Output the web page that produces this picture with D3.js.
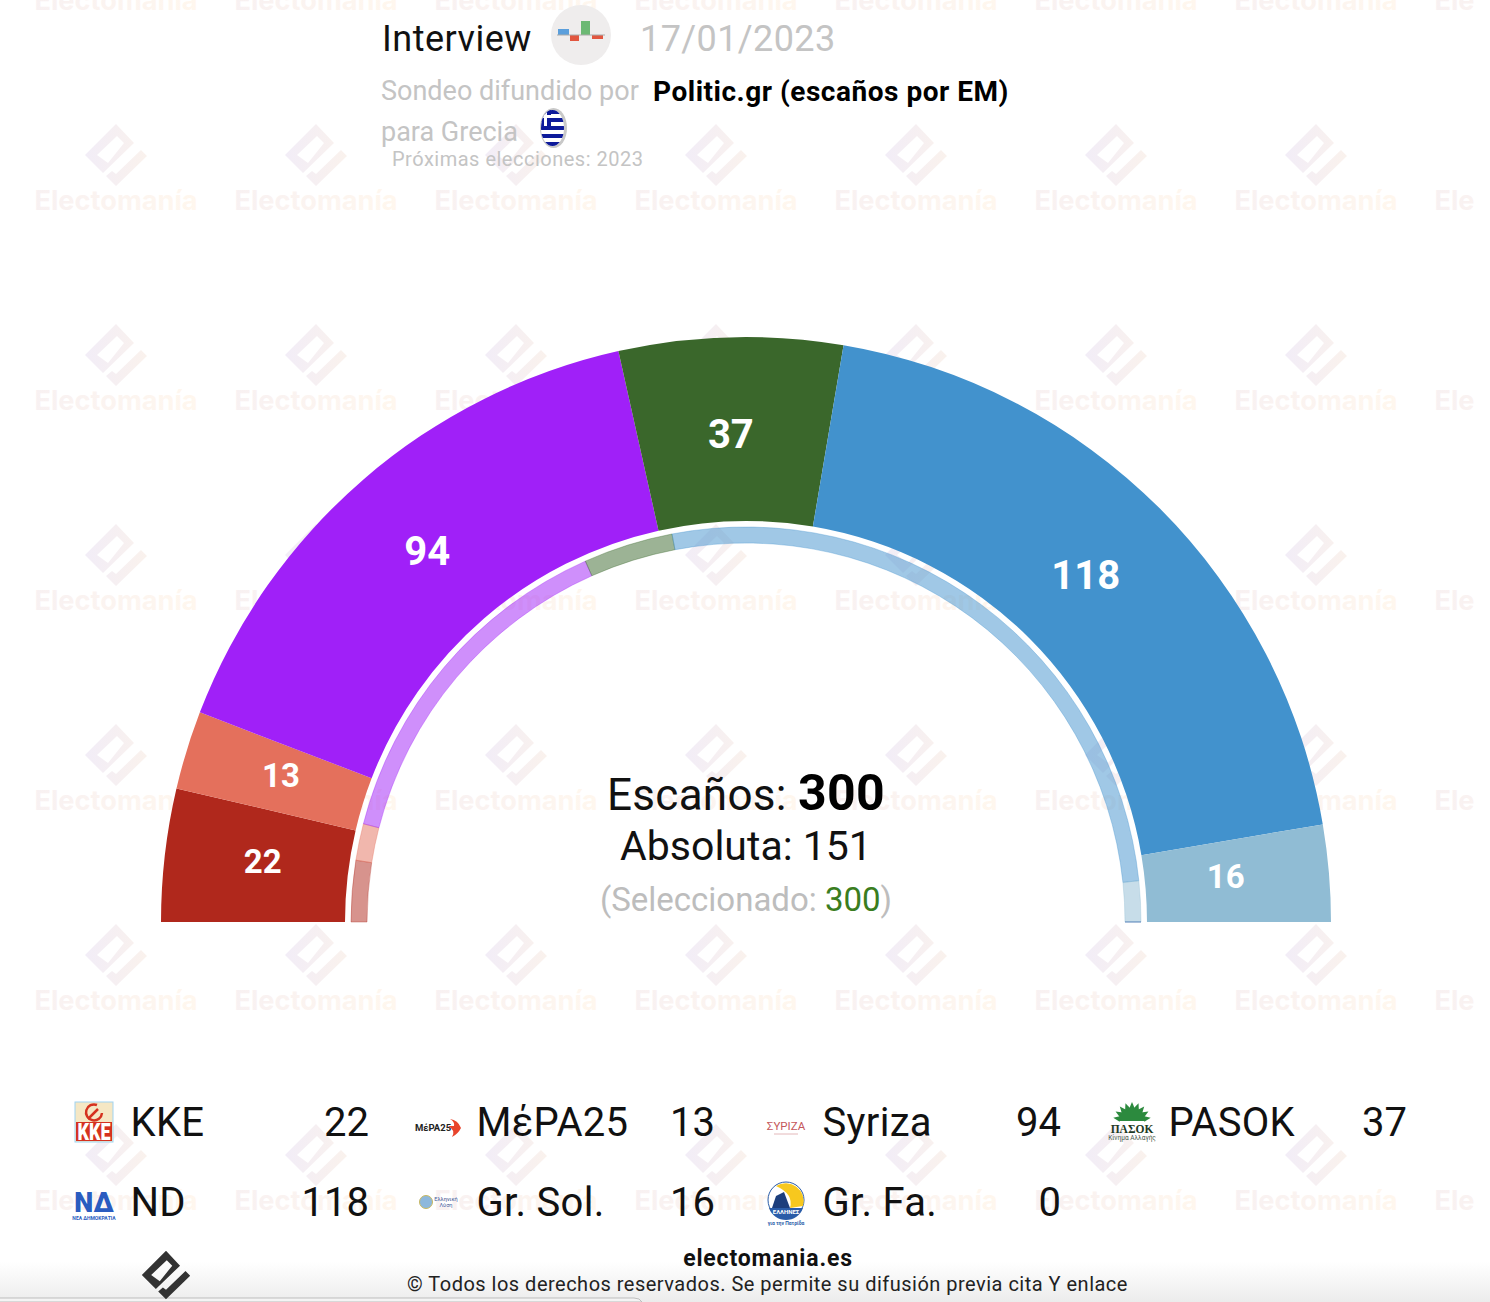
<!DOCTYPE html>
<html>
<head>
<meta charset="utf-8">
<script src="https://cdn.jsdelivr.net/npm/d3@7"></script>
<style>
html, body { margin: 0; padding: 0; background: #fff; overflow: hidden; }
text { font-family: Roboto, sans-serif; }
</style>
</head>
<body>
<div id="chart"></div>
<script>
var parties = ["KKE", "ΜέPA25", "Syriza", "PASOK", "ND", "Gr. Sol.", "Gr. Fa."];
var seats = [22, 13, 94, 37, 118, 16, 0];
var previousSeats = [15, 9, 86, 22, 158, 10, 0];
var colors = ["#b0281c", "#e4705c", "#a020f8", "#3a672b", "#4292cd", "#90bcd4", "#1f4fa0"];
var totalSeats = 300;
var majority = 151;
var selected = 300;

var width = 1490, height = 1302;
var cx = 746, cy = 922;

var svg = d3.select("#chart").append("svg")
    .attr("width", width)
    .attr("height", height)
    .style("display", "block");

var defs = svg.append("defs");

function gradient(id, stops) {
    var g = defs.append("linearGradient").attr("id", id);
    stops.forEach(function(s, i) {
        g.append("stop").attr("offset", i / (stops.length - 1)).attr("stop-color", s);
    });
}
gradient("wmLogo", ["#f2edf7", "#faf2ed"]);
gradient("wmText", ["#f8f1f2", "#fff7ee"]);

var pageFade = defs.append("linearGradient").attr("id", "pageFade").attr("x2", 0).attr("y2", 1);
pageFade.append("stop").attr("offset", 0).attr("stop-color", "#fff");
pageFade.append("stop").attr("offset", 1).attr("stop-color", "#ececec");

defs.append("clipPath").attr("id", "wmClip")
    .append("rect").attr("width", 1475).attr("height", height);
defs.append("clipPath").attr("id", "flagClip")
    .append("ellipse").attr("cx", 552.5).attr("cy", 128).attr("rx", 11.5).attr("ry", 18);

// logo outline, centred on the diamond's left/right axis
var logoPath = "M0 -31 L18 -12 L-13 18 L-31 0 Z M1 -19 L-19 0 L-8 8 L8 -12 Z" +
    "M25 -5 L31 1 L0 31 L-10 21 L-4 16 L0 19 Z";

//////////////////////////////////////////////////////////////////////////////
// background watermark

var wm = svg.append("g").attr("clip-path", "url(#wmClip)");
d3.range(0, 8).forEach(function(col) {
    d3.range(0, 7).forEach(function(row) {
        var x = 116 + col * 200, y = row * 200;
        wm.append("path")
            .attr("transform", "translate(" + x + "," + (y - 45) + ")")
            .attr("d", logoPath)
            .attr("fill-rule", "evenodd")
            .attr("fill", "url(#wmLogo)");
        wm.append("text")
            .attr("x", x)
            .attr("y", y + 10)
            .attr("text-anchor", "middle")
            .style("font-family", "Inter, sans-serif")
            .style("font-weight", 700)
            .style("font-size", "27.2px")
            .attr("fill", "url(#wmText)")
            .text("Electomanía");
    });
});

//////////////////////////////////////////////////////////////////////////////
// header

function label(sel, x, y, size, color, txt, weight, anchor) {
    return sel.append("text")
        .attr("x", x)
        .attr("y", y)
        .attr("fill", color)
        .attr("text-anchor", anchor || "start")
        .style("font-size", size + "px")
        .style("font-weight", weight || 400)
        .text(txt);
}

var grey = "#c4c4c4";
var header = svg.append("g");
label(header, 382, 51, 36, "#111", "Interview").style("letter-spacing", "0.5px");
label(header, 640, 51, 36, grey, "17/01/2023").style("letter-spacing", "0.4px");
label(header, 381, 100, 27, grey, "Sondeo difundido por");
label(header, 653, 101, 28, "#000", "Politic.gr (escaños por EM)", 700).style("letter-spacing", "0.52px");
label(header, 381, 141, 27, grey, "para Grecia");
label(header, 392, 166, 20, grey, "Próximas elecciones: 2023").style("letter-spacing", "0.5px");

// small bar icon next to the pollster
var icon = header.append("g");
icon.append("circle").attr("cx", 581).attr("cy", 35).attr("r", 30).attr("fill", "#efeded");
[[558, 29, 11, 6, "#5b9fdc"], [570, 35, 9, 6, "#e2563f"], [581, 21, 9, 14, "#6cb974"], [592, 35, 11, 4, "#e2563f"]]
    .forEach(function(b) {
        icon.append("rect").attr("x", b[0]).attr("y", b[1]).attr("width", b[2]).attr("height", b[3]).attr("fill", b[4]);
    });
icon.append("line").attr("x1", 557).attr("x2", 605).attr("y1", 35).attr("y2", 35).attr("stroke", "#aaa");

// greek flag
var flag = header.append("g");
flag.append("ellipse").attr("cx", 553.5).attr("cy", 128).attr("rx", 13.5).attr("ry", 20).attr("fill", "#c8c8c8");
var flagInner = flag.append("g").attr("clip-path", "url(#flagClip)");
flagInner.append("rect").attr("x", 540).attr("y", 108).attr("width", 28).attr("height", 40).attr("fill", "#fff");
d3.range(0, 5).forEach(function(i) {
    flagInner.append("rect").attr("x", 540).attr("y", 110 + i * 8).attr("width", 28).attr("height", 4).attr("fill", "#0d1a9a");
});
flagInner.append("rect").attr("x", 540).attr("y", 108).attr("width", 11).attr("height", 18).attr("fill", "#0d1a9a");
flagInner.append("rect").attr("x", 544).attr("y", 108).attr("width", 3).attr("height", 18).attr("fill", "#fff");
flagInner.append("rect").attr("x", 540).attr("y", 115).attr("width", 11).attr("height", 3).attr("fill", "#fff");

//////////////////////////////////////////////////////////////////////////////
// hemicycle

var pie = d3.pie().sort(null).startAngle(-Math.PI / 2).endAngle(Math.PI / 2);
var mainArc = d3.arc().innerRadius(401).outerRadius(585);
var ringArc = d3.arc().innerRadius(379).outerRadius(395);
var labelArc = d3.arc().innerRadius(484).outerRadius(484);

var chart = svg.append("g").attr("transform", "translate(" + cx + "," + cy + ")");

chart.selectAll("path.seat")
    .data(pie(seats))
    .enter().append("path")
    .attr("class", "seat")
    .attr("d", mainArc)
    .attr("fill", function(d, i) { return colors[i]; });

chart.selectAll("path.prev")
    .data(pie(previousSeats))
    .enter().append("path")
    .attr("class", "prev")
    .attr("d", ringArc)
    .attr("fill", function(d, i) { return colors[i]; })
    .attr("fill-opacity", 0.5)
    .attr("stroke", function(d, i) { return colors[i]; })
    .attr("stroke-opacity", 0.35);

chart.selectAll("text.seatLabel")
    .data(pie(seats).filter(function(d) { return d.value > 0; }))
    .enter().append("text")
    .attr("class", "seatLabel")
    .attr("transform", function(d) {
        var c = labelArc.centroid(d);
        return "translate(" + (c[0] - 2.5) + "," + (c[1] - 5) + ")";
    })
    .attr("text-anchor", "middle")
    .attr("dy", "0.36em")
    .attr("fill", "#fff")
    .style("font-weight", 700)
    .style("font-size", function(d) { return d.value < 30 ? "33px" : "40px"; })
    .text(function(d) { return d.value; });

//////////////////////////////////////////////////////////////////////////////
// centre text

var centre = svg.append("g");
var line1 = label(centre, cx, 810, 44, "#111", "Escaños: ", 400, "middle").style("letter-spacing", "0.3px");
line1.append("tspan").style("font-weight", 700).style("font-size", "50px").attr("fill", "#000").text(totalSeats);
label(centre, cx, 860, 41, "#111", "Absoluta: " + majority, 400, "middle");
var line3 = label(centre, cx, 911, 33, "#bdbdbd", "(Seleccionado: ", 400, "middle");
line3.append("tspan").attr("fill", "#3a7d20").text(selected);
line3.append("tspan").text(")");

//////////////////////////////////////////////////////////////////////////////
// legend

var legendX = d3.scalePoint().domain(d3.range(4)).range([0, 1038]);
var legendY = d3.scalePoint().domain(d3.range(2)).range([1136, 1216]);

var legend = svg.selectAll("g.legend")
    .data(parties)
    .enter().append("g")
    .attr("class", "legend")
    .attr("transform", function(d, i) {
        return "translate(" + legendX(i % 4) + "," + legendY(Math.floor(i / 4)) + ")";
    });

legend.append("text")
    .attr("x", 130.5)
    .attr("fill", "#111")
    .style("font-size", "40px")
    .style("letter-spacing", "0.3px")
    .text(function(d) { return d; });

legend.append("text")
    .attr("x", 369)
    .attr("text-anchor", "end")
    .attr("fill", "#111")
    .style("font-size", "40px")
    .text(function(d, i) { return seats[i]; });

// party logos, origin is the middle of the logo cell at the text baseline
var logos = legend.append("g").attr("transform", "translate(94,-14)");

function tiny(sel, x, y, size, color, txt, weight, family) {
    var t = label(sel, x, y, size, color, txt, weight, "middle");
    if (family) t.style("font-family", family);
    return t;
}

logos.each(function(d, i) {
    var g = d3.select(this);
    if (i === 0) {
        g.append("rect").attr("x", -19).attr("y", -20).attr("width", 38).attr("height", 40)
            .attr("fill", "#f5e7c4").attr("stroke", "#9fd3f2");
        g.append("rect").attr("x", -18).attr("y", 0).attr("width", 36).attr("height", 19).attr("fill", "#d5321f");
        // sickle and hammer
        g.append("path").attr("d", "M3 -17 A8 8 0 1 0 8 -9").attr("fill", "none")
            .attr("stroke", "#d5321f").attr("stroke-width", 2.5);
        g.append("line").attr("x1", -6).attr("y1", -3).attr("x2", 4).attr("y2", -13)
            .attr("stroke", "#d5321f").attr("stroke-width", 2.5);
        tiny(g, 0, 18, 23, "#fff", "KKE", 900)
            .attr("textLength", 33)
            .attr("lengthAdjust", "spacingAndGlyphs");
    } else if (i === 1) {
        tiny(g, -7, 9, 9.5, "#222", "ΜέPA25", 700);
        g.append("path").attr("d", "M10 -3 Q18 -2 21 6 Q18 12 12 15 Q16 8 8 4 L14 4 Q15 0 10 -3 Z").attr("fill", "#e8442c");
    } else if (i === 2) {
        tiny(g, 0, 8, 11.5, "#c4565a", "ΣΥΡΙΖΑ");
        g.append("line").attr("x1", -12).attr("x2", 12).attr("y1", 12).attr("y2", 12)
            .attr("stroke", "#e3b8ba").attr("stroke-width", 1);
    } else if (i === 3) {
        d3.range(-80, 81, 20).forEach(function(a) {
            g.append("path").attr("d", "M-3 -12 L0 -19 L3 -12 Z")
                .attr("transform", "translate(0,-1) rotate(" + a + ")")
                .attr("fill", "#2c8a3e");
        });
        g.append("path").attr("d", d3.arc().innerRadius(0).outerRadius(13)({ startAngle: -Math.PI / 2, endAngle: Math.PI / 2 }))
            .attr("transform", "translate(0,-1)")
            .attr("fill", "#2c8a3e");
        tiny(g, 0, 11, 11.5, "#1d3a24", "ΠΑΣΟΚ", 700, "'Liberation Serif', serif");
        tiny(g, 0, 18, 6.5, "#4a5a4d", "Κίνημα Αλλαγής");
    } else if (i === 4) {
        tiny(g, 0, 10, 27, "#2a5cc0", "ΝΔ", 900);
        tiny(g, 0, 18, 5, "#2a5cc0", "ΝΕΑ ΔΗΜΟΚΡΑΤΙΑ", 700);
    } else if (i === 5) {
        g.append("circle").attr("cx", -14).attr("cy", 0).attr("r", 6.5).attr("fill", "#8db8dc").attr("stroke", "#c8b860");
        tiny(g, 6, -1.5, 5.6, "#445a9a", "Ελληνική");
        tiny(g, 6, 5, 5.6, "#445a9a", "Λύση");
    } else {
        g.append("circle").attr("cx", 0).attr("cy", -2).attr("r", 18).attr("fill", "#fff").attr("stroke", "#2a5ca8");
        g.append("path").attr("d", "M-10 -16 A18 18 0 0 1 17 4 L4 6 Q8 -8 -10 -16 Z").attr("fill", "#f7c81e");
        g.append("path").attr("d", "M-14 6 L-10 -6 L-2 -10 L4 6 Z").attr("fill", "#1c3e7c");
        g.append("path").attr("d", "M-17 6 L17 6 A18 18 0 0 1 -17 6 Z").attr("fill", "#2a5ca8");
        tiny(g, 0, 12, 6, "#fff", "ΕΛΛΗΝΕΣ", 700);
        tiny(g, 0, 23, 5, "#2a5ca8", "για την Πατρίδα", 700);
    }
});

//////////////////////////////////////////////////////////////////////////////
// footer

var footer = svg.append("g");
footer.append("rect").attr("y", 1262).attr("width", width).attr("height", 40).attr("fill", "url(#pageFade)");
footer.append("path").attr("d", "M-5 1302 L-5 1298 L634 1298 Q640 1298 642 1302 Z")
    .attr("fill", "#f4f4f4").attr("stroke", "#bdbdbd");
footer.append("path")
    .attr("transform", "translate(166,1275) scale(0.78)")
    .attr("d", logoPath)
    .attr("fill-rule", "evenodd")
    .attr("fill", "#333");
label(footer, 768, 1266, 23, "#111", "electomania.es", 700, "middle").style("letter-spacing", "0.85px");
label(footer, 767.5, 1291, 20, "#222", "© Todos los derechos reservados. Se permite su difusión previa cita Y enlace", 400, "middle")
    .style("letter-spacing", "0.49px");
</script>
</body>
</html>
